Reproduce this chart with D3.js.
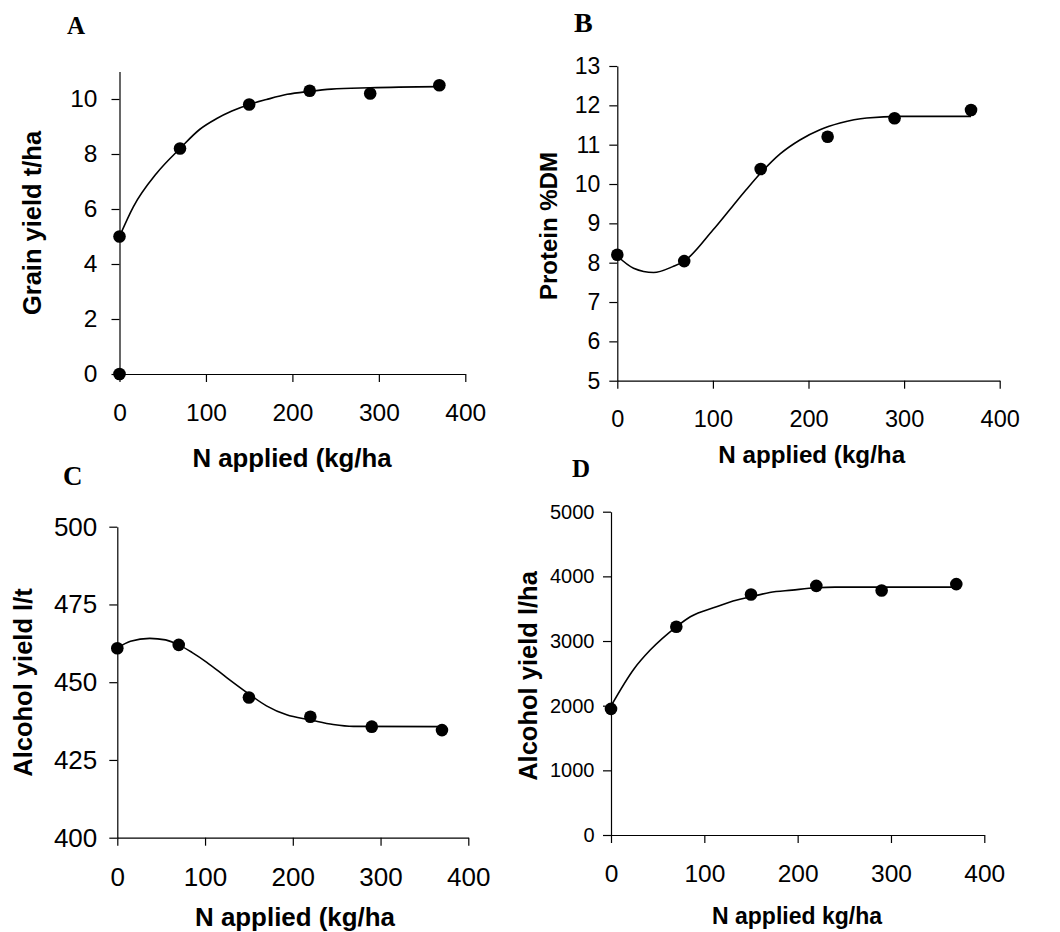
<!DOCTYPE html>
<html>
<head>
<meta charset="utf-8">
<script src="https://cdn.jsdelivr.net/npm/d3@7"></script>
<style>
  html, body { margin: 0; padding: 0; background: #fff; }
  svg { display: block; }
  .tick text { fill: #000; font-family: "Liberation Sans", Arial, sans-serif; }
  .domain, .tick line { stroke: #000; stroke-width: 1.2; }
</style>
</head>
<body>
<svg id="chart" width="1060" height="932"></svg>
<script>
// ---------- data ----------
const nApplied = [0, 70, 150, 220, 290, 370];
const xTicks = [0, 100, 200, 300, 400];

// Panel A: grain yield (t/ha)
const grainYield = [5.0, 8.2, 9.8, 10.3, 10.2, 10.5];
const grainExtraX = [0];
const grainExtraY = [0];
const grainTicks = [0, 2, 4, 6, 8, 10];
const grainFitX = [0, 16, 43, 70, 93, 112, 130, 150, 170, 194, 220, 245, 290, 370];
const grainFitY = [5.0, 6.08, 7.3, 8.2, 8.9, 9.28, 9.56, 9.8, 9.98, 10.17, 10.28, 10.36, 10.41, 10.45];

// Panel B: protein %DM
const protein = [8.2, 8.04, 10.38, 11.2, 11.67, 11.88];
const proteinTicks = [5, 6, 7, 8, 9, 10, 11, 12, 13];
const proteinFitX = [0, 17, 38, 58, 70, 100, 121, 135, 150, 170, 191, 212, 233, 261, 296, 370];
const proteinFitY = [8.17, 7.86, 7.75, 7.9, 8.04, 8.83, 9.45, 9.86, 10.28, 10.76, 11.12, 11.38, 11.55, 11.68, 11.72, 11.72];

// Panel C: alcohol yield (l/t)
const alcoholPerT = [460.9, 462.0, 445.1, 438.9, 435.7, 434.6];
const alcoholPerTTicks = [400, 425, 450, 475, 500];
const alcoholPerTFitX = [0, 15, 37, 55, 70, 85, 102, 125, 150, 170, 193, 220, 246, 269, 370];
const alcoholPerTFitY = [461, 463.2, 464.1, 463.6, 462, 459.6, 456.4, 451.4, 446.2, 442.4, 439.5, 437.9, 436.4, 435.8, 435.7];

// Panel D: alcohol yield (l/ha)
const alcoholPerHa = [1950, 3220, 3720, 3853, 3782, 3880];
const alcoholPerHaTicks = [0, 1000, 2000, 3000, 4000, 5000];
const alcoholPerHaFitX = [0, 25, 42, 70, 85, 113, 134, 150, 170, 194, 220, 240, 370];
const alcoholPerHaFitY = [1995, 2576, 2860, 3220, 3375, 3530, 3632, 3683, 3751, 3787, 3823, 3833, 3833];

const panelLetters = ["A", "B", "C", "D"];
const yTitles = ["Grain yield t/ha", "Protein %DM", "Alcohol yield l/t", "Alcohol yield l/ha"];
const xTitles = ["N applied (kg/ha", "N applied (kg/ha", "N applied (kg/ha", "N applied kg/ha"];

// ---------- layout (pixels) ----------
const layout = [
  { x0: 119.5, x1: 465.3, yTop: 71.5, yBot: 374, yDom: [0, 11], yt: grainTicks, ys: grainYield,
    fx: grainFitX, fy: grainFitY, yFont: 24.5, xFont: 24.5, ypad: 14, titleFont: 25.5,
    letter: [67, 34, 25], yTitle: [40.5, 223], xTitle: [292, 467, 25.8] },
  { x0: 617.3, x1: 999.7, yTop: 66, yBot: 380.7, yDom: [5, 13], yt: proteinTicks, ys: protein,
    fx: proteinFitX, fy: proteinFitY, yFont: 23, xFont: 23.5, ypad: 9, titleFont: 24,
    letter: [574, 32, 28], yTitle: [557, 226], xTitle: [811.7, 463, 24.2] },
  { x0: 117.3, x1: 468.3, yTop: 526.7, yBot: 837.7, yDom: [400, 500], yt: alcoholPerTTicks, ys: alcoholPerT,
    fx: alcoholPerTFitX, fy: alcoholPerTFitY, yFont: 26, xFont: 26, ypad: 12, titleFont: 25.5,
    letter: [63, 485, 27], yTitle: [32, 682.5], xTitle: [295, 926, 25.9] },
  { x0: 611, x1: 984.3, yTop: 511.7, yBot: 835, yDom: [0, 5000], yt: alcoholPerHaTicks, ys: alcoholPerHa,
    fx: alcoholPerHaFitX, fy: alcoholPerHaFitY, yFont: 20, xFont: 24.5, ypad: 8.5, titleFont: 25.5,
    letter: [572, 477, 25], yTitle: [537, 676], xTitle: [797, 924, 23] }
];

const svg = d3.select("#chart");
const tickLen = 8;

layout.forEach((p, i) => {
  const x = d3.scaleLinear().domain([0, 400]).range([p.x0, p.x1]);
  const y = d3.scaleLinear().domain(p.yDom).range([p.yBot, p.yTop]);
  const g = svg.append("g");

  // x axis
  const xa = g.append("g").attr("transform", `translate(0,${p.yBot})`)
    .call(d3.axisBottom(x).tickValues(xTicks).tickSize(tickLen).tickSizeOuter(0).tickPadding(22).tickFormat(d3.format("d")));
  xa.selectAll("text").style("font-size", p.xFont + "px");

  // y axis
  const ya = g.append("g").attr("transform", `translate(${p.x0},0)`)
    .call(d3.axisLeft(y).tickValues(p.yt).tickSize(tickLen).tickSizeOuter(0).tickPadding(p.ypad).tickFormat(d3.format("d")));
  ya.selectAll("text").style("font-size", p.yFont + "px");

  // fitted curve
  const line = d3.line().x(d => x(d[0])).y(d => y(d[1])).curve(d3.curveMonotoneX);
  g.append("path").datum(p.fx.map((v, k) => [v, p.fy[k]]))
    .attr("d", line).attr("fill", "none").attr("stroke", "#000").attr("stroke-width", 1.6);

  // points
  const pts = nApplied.map((v, k) => [v, p.ys[k]]);
  if (i === 0) grainExtraX.forEach((v, k) => pts.push([v, grainExtraY[k]]));
  g.selectAll("circle.pt").data(pts).join("circle")
    .attr("class", "pt").attr("cx", d => x(d[0])).attr("cy", d => y(d[1]))
    .attr("r", 6.3).attr("fill", "#000");

  // panel letter
  svg.append("text").attr("x", p.letter[0]).attr("y", p.letter[1])
    .style("font-family", "'Liberation Serif', 'Times New Roman', serif")
    .style("font-weight", "bold").style("font-size", p.letter[2] + "px")
    .text(panelLetters[i]);

  // y title
  svg.append("text")
    .attr("transform", `translate(${p.yTitle[0]},${p.yTitle[1]}) rotate(-90)`)
    .attr("text-anchor", "middle")
    .style("font-family", "'Liberation Sans', Arial, sans-serif")
    .style("font-weight", "bold").style("font-size", p.titleFont + "px")
    .text(yTitles[i]);

  // x title
  svg.append("text").attr("x", p.xTitle[0]).attr("y", p.xTitle[1])
    .attr("text-anchor", "middle")
    .style("font-family", "'Liberation Sans', Arial, sans-serif")
    .style("font-weight", "bold").style("font-size", p.xTitle[2] + "px")
    .text(xTitles[i]);
});
</script>
</body>
</html>
